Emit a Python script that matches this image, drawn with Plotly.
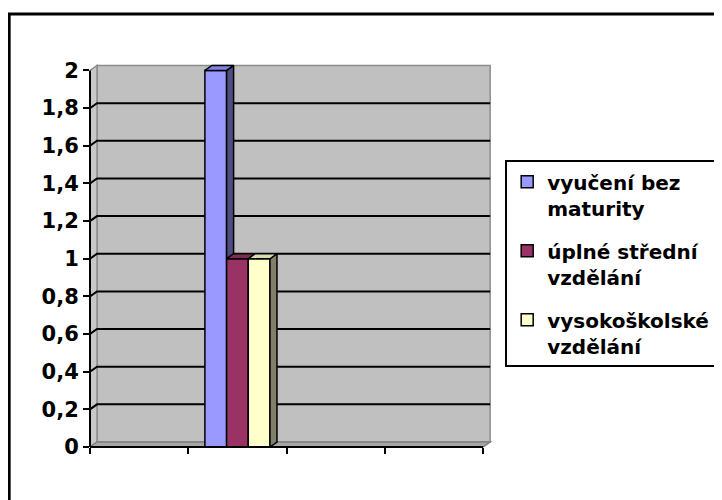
import plotly.graph_objects as go

# ---------------- data ----------------
categories = [0, 1, 2, 3]                     # four category slots (no labels shown)
series_names = ["vyučení bez<br>maturity", "úplné střední<br>vzdělání", "vysokoškolské<br>vzdělání"]
vyuceni_bez_maturity = [None, 2, None, None]
uplne_stredni = [None, 1, None, None]
vysokoskolske = [None, 1, None, None]
y_tick_vals = [0, 0.2, 0.4, 0.6, 0.8, 1, 1.2, 1.4, 1.6, 1.8, 2]
y_tick_text = ["0", "0,2", "0,4", "0,6", "0,8", "1", "1,2", "1,4", "1,6", "1,8", "2"]

series_values = [vyuceni_bez_maturity, uplne_stredni, vysokoskolske]
front_colors = ["#9999FF", "#993366", "#FFFFCC"]
top_colors = ["#8383E6", "#802B55", "#DCDCB0"]
side_colors = ["#4D4D80", "#4D1A33", "#80806A"]

# ---------------- geometry (figure pixels; page has 8px body margin) ----------------
W, H = 722, 500
PX_LEFT, PX_ZERO = 82, 439          # front-left corner of the axes
UNIT_X, UNIT_Y = 98.25, 188.5       # pixels per category / per value unit
XMIN, XMAX = -0.5, 3.6
YMAX_DATA = 2
YTOP = 2.045
PLOT_W = (XMAX - XMIN) * UNIT_X
PLOT_H = YTOP * UNIT_Y
BARGAP = 0.338
DX = 7 / UNIT_X      # 3-D depth shift along x (axis units)
DY = 5 / UNIT_Y      # 3-D depth shift along y (axis units)
x_left, x_right = -0.5, 3.5


def paper_x(px):
    return (px - PX_LEFT) / PLOT_W


def paper_y(py):
    return (PX_ZERO - py) / PLOT_H


fig = go.Figure()

# front faces of bars
for name, vals, col in zip(series_names, series_values, front_colors):
    fig.add_trace(go.Bar(
        x=categories, y=vals, name=name, legendgroup=name,
        marker=dict(color=col, line=dict(color="black", width=1.5)),
        hoverinfo="skip",
    ))

# 3-D top and side faces derived from the values and bar layout
n = len(series_values)
group_w = 1 - BARGAP
bar_w = group_w / n
for ci, c in enumerate(categories):
    for si, vals in enumerate(series_values):
        v = vals[ci]
        if v is None:
            continue
        L = c - group_w / 2 + si * bar_w
        R = L + bar_w
        base = 0
        if si + 1 < n and series_values[si + 1][ci] is not None:
            base = series_values[si + 1][ci]
        if base < v:
            fig.add_trace(go.Scatter(
                x=[R, R + DX, R + DX, R, R], y=[base, base + DY, v + DY, v, base],
                fill="toself", fillcolor=side_colors[si], mode="lines",
                line=dict(color="black", width=1.5), showlegend=False, hoverinfo="skip"))
        fig.add_trace(go.Scatter(
            x=[L, R, R + DX, L + DX, L], y=[v, v, v + DY, v + DY, v],
            fill="toself", fillcolor=top_colors[si], mode="lines",
            line=dict(color="black", width=1.5), showlegend=False, hoverinfo="skip"))

shapes = []
# back wall
shapes.append(dict(type="rect", xref="x", yref="y", x0=x_left + DX, x1=x_right + DX,
                   y0=DY, y1=YMAX_DATA + DY, fillcolor="#C0C0C0",
                   line=dict(color="#8C8C8C", width=1.5), layer="below"))
# left side wall
shapes.append(dict(type="path", xref="x", yref="y",
                   path=f"M{x_left},0 L{x_left+DX},{DY} L{x_left+DX},{YMAX_DATA+DY} L{x_left},{YMAX_DATA} Z",
                   fillcolor="#C8C8C8", line=dict(color="#8C8C8C", width=1.5), layer="below"))
# floor
shapes.append(dict(type="path", xref="x", yref="y",
                   path=f"M{x_left},0 L{x_right},0 L{x_right+DX},{DY} L{x_left+DX},{DY} Z",
                   fillcolor="#A6A6A6", line=dict(color="#808080", width=1.5), layer="below"))
# gridlines on side wall and back wall
for v in y_tick_vals[1:-1]:
    shapes.append(dict(type="path", xref="x", yref="y",
                       path=f"M{x_left},{v} L{x_left+DX},{v+DY} L{x_right+DX},{v+DY}",
                       line=dict(color="black", width=2), layer="below"))
# front axis lines (domain-referenced so they are not clipped)
shapes.append(dict(type="line", xref="x domain", yref="y domain",
                   x0=0, x1=0, y0=0, y1=YMAX_DATA / YTOP,
                   line=dict(color="black", width=2)))
shapes.append(dict(type="line", xref="x domain", yref="y domain",
                   x0=0, x1=(x_right - XMIN) / (XMAX - XMIN), y0=0, y1=0,
                   line=dict(color="black", width=2)))
# outer chart frame (only top/left fall inside the picture)
shapes.append(dict(type="rect", xref="paper", yref="paper",
                   x0=paper_x(1.2), x1=paper_x(W + 30),
                   y0=paper_y(H + 30), y1=paper_y(5.5),
                   line=dict(color="black", width=3), fillcolor="rgba(0,0,0,0)", layer="below"))

fig.update_layout(
    width=W, height=H,
    margin=dict(l=PX_LEFT, r=W - PX_LEFT - PLOT_W, t=PX_ZERO - PLOT_H, b=H - PX_ZERO, pad=0),
    paper_bgcolor="white", plot_bgcolor="rgba(0,0,0,0)",
    barmode="group", bargap=BARGAP, bargroupgap=0,
    separators=",.",
    shapes=shapes,
    showlegend=True,
    legend=dict(
        x=paper_x(497), y=paper_y(152), xanchor="left", yanchor="top",
        bgcolor="white", bordercolor="black", borderwidth=2,
        font=dict(family="DejaVu Sans", size=20, color="black", weight="bold"),
        valign="top", tracegroupgap=14, traceorder="grouped",
    ),
    xaxis=dict(range=[XMIN, XMAX], showgrid=False, zeroline=False, showline=False,
               tickmode="array", tickvals=[-0.5, 0.5, 1.5, 2.5, 3.5],
               showticklabels=False, ticks="outside", ticklen=6, tickwidth=2,
               tickcolor="black", fixedrange=True),
    yaxis=dict(range=[0, YTOP], showgrid=False, zeroline=False, showline=False,
               tickmode="array", tickvals=y_tick_vals, ticktext=y_tick_text,
               ticks="outside", ticklen=6, tickwidth=2, tickcolor="black",
               tickfont=dict(family="DejaVu Sans", size=21, color="black", weight="bold"),
               fixedrange=True),
)

fig.write_html("out.html")
